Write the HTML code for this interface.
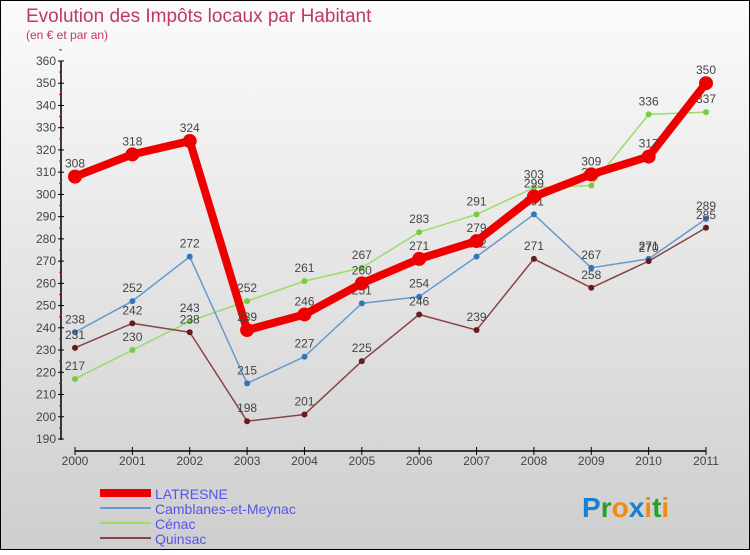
<!DOCTYPE html>
<html><head><meta charset="utf-8"><style>
html,body{margin:0;padding:0}
body{width:750px;height:550px;overflow:hidden;font-family:"Liberation Sans",sans-serif}
svg text{font-family:"Liberation Sans",sans-serif}
</style></head><body>
<svg id="c" width="750" height="550" xmlns="http://www.w3.org/2000/svg">
<defs><linearGradient id="bg" x1="0" y1="0" x2="0" y2="1"><stop offset="0" stop-color="#fbfbfb"/><stop offset="1" stop-color="#cecece"/></linearGradient></defs>
<rect x="0.5" y="0.5" width="749" height="549" fill="url(#bg)" stroke="#000"/>
<text x="26" y="22" font-size="19" fill="#c0395f">Evolution des Impôts locaux par Habitant</text>
<text x="26" y="39" font-size="12" fill="#c0395f">(en € et par an)</text>
<g id="axes"></g><g id="series"></g><g id="legend"></g>
<text x="582" y="517" font-size="28" font-weight="bold"><tspan fill="#1a7fd0">P</tspan><tspan fill="#27a02a">r</tspan><tspan fill="#f08a14">o</tspan><tspan fill="#1a7fd0">x</tspan><tspan fill="#f08a14">i</tspan><tspan fill="#27a02a">t</tspan><tspan fill="#f08a14">i</tspan></text>
</svg>
<script>
const years=["2000","2001","2002","2003","2004","2005","2006","2007","2008","2009","2010","2011"];
const yTicks=[190,200,210,220,230,240,250,260,270,280,290,300,310,320,330,340,350,360];
const latresne=[308,318,324,239,246,260,271,279,299,309,317,350];
const camblanes=[238,252,272,215,227,251,254,272,291,267,271,289];
const cenac=[217,230,243,252,261,267,283,291,303,304,336,337];
const quinsac=[231,242,238,198,201,225,246,239,271,258,270,285];
const seriesNames=["LATRESNE","Camblanes-et-Meynac","Cénac","Quinsac"];
const NS="http://www.w3.org/2000/svg";
const X=i=>75+i*(706-75)/(years.length-1);
const Y=v=>439-(v-190)*(439-61)/(360-190);
function mk(t,a,p){const e=document.createElementNS(NS,t);for(const k in a)e.setAttribute(k,a[k]);p.appendChild(e);return e;}
const ax=document.getElementById('axes');
let l=mk('line',{x1:61,y1:61,x2:61,y2:440,stroke:'#000','stroke-width':1.5},ax);


yTicks.forEach(v=>{
 const t=mk('line',{x1:58,y1:Y(v),x2:64,y2:Y(v),stroke:'#000'},ax);
 
 
 const h=mk('line',{x1:59,y1:Y(v+5),x2:62,y2:Y(v+5),stroke:'#d00'},ax);
 
 
 const tx=mk('text',{x:56,y:Y(v)+4,'font-size':12,fill:'#444','text-anchor':'end'},ax);
 tx.textContent=v;
 
 
});
l=mk('line',{x1:75,y1:451,x2:706,y2:451,stroke:'#000','stroke-width':1.5},ax);


years.forEach((y,i)=>{
 const t=mk('line',{x1:X(i),y1:447,x2:X(i),y2:455,stroke:'#000'},ax);
 
 
 const tx=mk('text',{x:X(i),y:465,'font-size':12,fill:'#444','text-anchor':'middle'},ax);
 tx.textContent=y;
 
 
});
const sg=document.getElementById('series');
const defs=[[cenac,'#99dd66','#77cc44',1.5,3],[camblanes,'#6699cc','#3377bb',1.5,3],[quinsac,'#884444','#661c1c',1.5,3],[latresne,'#ee0000','#ee0000',8,7]];
const names=['cenac','camblanes','quinsac','latresne'];
defs.forEach((d,si)=>{
 const vals=d[0];
 const p=mk('polyline',{points:vals.map((v,i)=>X(i)+','+Y(v)).join(' '),fill:'none',stroke:d[1],'stroke-width':d[3],'stroke-linejoin':'round'},sg);
 
 
 vals.forEach((v,i)=>{
  const c=mk('circle',{cx:X(i),cy:Y(v),r:d[4],fill:d[2]},sg);
  
  
  const t=mk('text',{x:X(i),y:Y(v)-9,'font-size':12,fill:'#444','text-anchor':'middle'},sg);
  t.textContent=v;
  
  
 });
});
const lg=document.getElementById('legend');
const lc=['#ee0000','#6699cc','#99dd66','#884444'],lw=[8,2,2,2];
seriesNames.forEach((n,i)=>{
 const y=493+i*15;
 const ln=mk('line',{x1:100,y1:y,x2:151,y2:y,stroke:lc[i],'stroke-width':lw[i]},lg);
 
 
 const t=mk('text',{x:155,y:y+6,'font-size':14,fill:'#5555ee'},lg);
 t.textContent=n;
 
 
});
</script>
</body></html>
